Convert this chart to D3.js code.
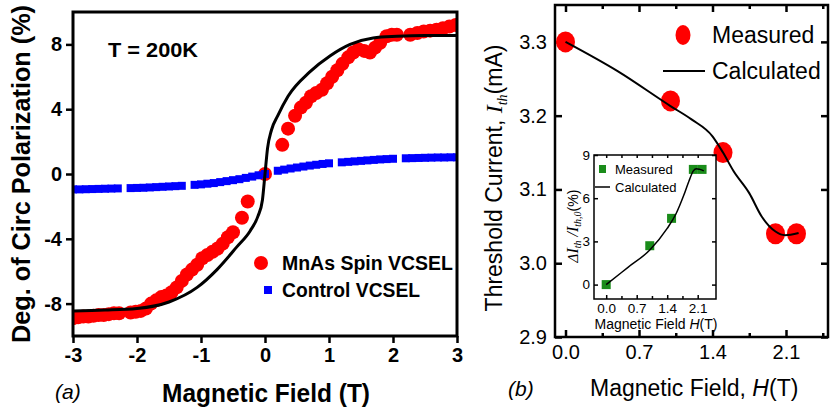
<!DOCTYPE html>
<html>
<head>
<meta charset="utf-8">
<script src="https://cdn.jsdelivr.net/npm/d3@7"></script>
<style>
  body { margin: 0; background: #fff; }
  svg { font-family: Arial, "Liberation Sans", sans-serif; }
</style>
</head>
<body>
<div id="graf"></div>
<script>
// ---- panel (a): polarization vs field ----
const spinField = [-3.0,-2.92,-2.84,-2.76,-2.68,-2.6,-2.52,-2.44,-2.36,-2.28,-2.1,-2.02,-1.94,-1.86,-1.78,-1.7,-1.62,-1.54,-1.46,-1.38,-1.3,-1.22,-1.14,-1.06,-0.98,-0.9,-0.82,-0.74,-0.66,-0.58,-0.5,-0.36,-0.27,0,0.27,0.36,0.47,0.56,0.64,0.72,0.8,0.89,0.97,1.05,1.13,1.21,1.3,1.38,1.46,1.55,1.64,1.72,1.8,1.9,1.98,2.06,2.27,2.38,2.48,2.58,2.68,2.78,2.88,2.98]
const spinPol = [-8.9,-8.85,-8.8,-8.8,-8.75,-8.7,-8.7,-8.65,-8.6,-8.6,-8.55,-8.5,-8.45,-8.3,-8.0,-7.8,-7.6,-7.5,-7.3,-7.0,-6.6,-6.2,-5.9,-5.6,-5.2,-5.0,-4.8,-4.6,-4.3,-3.9,-3.6,-2.7,-1.7,0,1.8,2.8,3.6,4.1,4.4,4.8,5.0,5.2,5.6,6.0,6.4,6.8,7.2,7.5,7.7,7.6,7.5,7.8,8.1,8.5,8.6,8.6,8.6,8.7,8.8,8.85,8.9,9.0,9.1,9.2]
const controlField = [-3.0,-2.9,-2.8,-2.7,-2.6,-2.5,-2.4,-2.3,-2.1,-2.0,-1.9,-1.8,-1.7,-1.6,-1.5,-1.4,-1.3,-1.1,-1.0,-0.9,-0.8,-0.7,-0.6,-0.5,-0.4,-0.3,-0.2,-0.1,0,0.2,0.3,0.4,0.5,0.6,0.7,0.8,0.9,1.0,1.2,1.3,1.4,1.5,1.6,1.7,1.8,1.9,2.0,2.2,2.3,2.4,2.5,2.6,2.7,2.8,2.9,3.0]
const controlPol = [-0.95,-0.95,-0.94,-0.93,-0.92,-0.91,-0.9,-0.89,-0.87,-0.86,-0.85,-0.83,-0.81,-0.79,-0.77,-0.75,-0.73,-0.67,-0.64,-0.6,-0.56,-0.5,-0.44,-0.38,-0.32,-0.24,-0.16,-0.08,0,0.2,0.27,0.34,0.4,0.46,0.52,0.57,0.62,0.66,0.72,0.75,0.78,0.81,0.84,0.87,0.9,0.92,0.94,0.97,0.98,0.99,1.0,1.01,1.02,1.02,1.03,1.03]
const fitField = [-3,-2.5,-2,-1.5,-1.06,-0.75,-0.44,-0.23,-0.11,-0.04,0,0.04,0.1,0.2,0.36,0.7,1.02,1.33,1.69,2.06,2.5,3]
const fitPol = [-8.45,-8.4,-8.3,-7.9,-7.0,-5.9,-4.5,-3.5,-2.6,-1.6,0,1.6,2.7,3.6,4.8,6.3,7.3,8.0,8.4,8.5,8.55,8.55]
const ticksAx = [-3,-2,-1,0,1,2,3]
const ticksAy = [-8,-4,0,4,8]

// ---- panel (b): threshold current ----
const fieldB = [0,1.0,1.5,2.0,2.2]
const ithMeasured = [3.30,3.22,3.15,3.04,3.04]
const calcFieldB = [0,0.5,1.0,1.2,1.4,1.5,1.6,1.75,1.87,2.0,2.09,2.22]
const ithCalc = [3.30,3.26,3.213,3.195,3.172,3.15,3.125,3.095,3.063,3.043,3.038,3.041]
const ticksBx = [0,0.7,1.4,2.1]
const minorBx = [0.35,1.05,1.75,2.45]
const ticksBy = [2.9,3.0,3.1,3.2,3.3]

// ---- inset ----
const deltaMeasured = [0,2.7,4.6,8.0,8.0]
const calcFieldC = [0,0.5,1.0,1.4,1.6,1.78,1.9,2.0,2.07,2.15,2.24]
const deltaCalc = [0,1.2,2.4,3.9,4.9,6.2,7.2,7.9,8.05,8.0,7.9]
const ticksCx = [0,0.7,1.4,2.1]
const minorCx = [0.35,1.05,1.75]
const ticksCy = [0,3,6,9]

const svg = d3.select("#graf").append("svg").attr("width", 830).attr("height", 410)

const styleAxis = (g, w, font) => {
  g.select(".domain").remove()
  g.selectAll("line").attr("stroke", "#000").attr("stroke-width", w)
  g.selectAll("text").attr("fill", "#000").style("font", font)
}
const plain = (d) => String(d)

// ================= panel (a) =================
const xA = d3.scaleLinear().domain([-3, 3]).range([73, 457])
const yA = d3.scaleLinear().domain([-10, 10]).range([336, 12])

svg.append("clipPath").attr("id", "clipA").append("rect")
  .attr("x", 73).attr("y", 12).attr("width", 384).attr("height", 324)

const plotA = svg.append("g").attr("clip-path", "url(#clipA)")

plotA.selectAll("circle").data(d3.zip(spinField, spinPol)).join("circle")
  .attr("cx", d => xA(d[0])).attr("cy", d => yA(d[1])).attr("r", 7)
  .attr("fill", "#ff0000")

plotA.selectAll("rect.ctrl").data(d3.zip(controlField, controlPol)).join("rect")
  .attr("class", "ctrl")
  .attr("x", d => xA(d[0]) - 4).attr("y", d => yA(d[1]) - 4)
  .attr("width", 8).attr("height", 8).attr("fill", "#0000ff")

const lineA = d3.line().x(d => xA(d[0])).y(d => yA(d[1])).curve(d3.curveMonotoneX)
plotA.append("path").datum(d3.zip(fitField, fitPol))
  .attr("d", lineA).attr("fill", "none").attr("stroke", "#000").attr("stroke-width", 3)

svg.append("g").attr("transform", "translate(0,336)")
  .call(d3.axisBottom(xA).tickValues(ticksAx).tickSize(7).tickPadding(5).tickFormat(plain))
  .call(styleAxis, 2.5, "bold 20px Arial, 'Liberation Sans'")
svg.append("g").attr("transform", "translate(73,0)")
  .call(d3.axisLeft(yA).tickValues(ticksAy).tickSize(7).tickPadding(4).tickFormat(plain))
  .call(styleAxis, 2.5, "bold 20px Arial, 'Liberation Sans'")

svg.append("rect").attr("x", 73).attr("y", 12).attr("width", 384).attr("height", 324)
  .attr("fill", "none").attr("stroke", "#000").attr("stroke-width", 3)

svg.append("text").attr("x", 108).attr("y", 57)
  .attr("textLength", 90).attr("lengthAdjust", "spacingAndGlyphs")
  .style("font", "bold 21px Arial, 'Liberation Sans'").text("T = 200K")

// legend (a)
svg.append("circle").attr("cx", 261).attr("cy", 263).attr("r", 7).attr("fill", "#ff0000")
svg.append("text").attr("x", 282).attr("y", 270)
  .attr("textLength", 171).attr("lengthAdjust", "spacingAndGlyphs")
  .style("font", "bold 20px Arial, 'Liberation Sans'").text("MnAs Spin VCSEL")
svg.append("rect").attr("x", 264).attr("y", 286).attr("width", 8).attr("height", 8).attr("fill", "#0000ff")
svg.append("text").attr("x", 282).attr("y", 297)
  .attr("textLength", 138).attr("lengthAdjust", "spacingAndGlyphs")
  .style("font", "bold 20px Arial, 'Liberation Sans'").text("Control VCSEL")

svg.append("text").attr("x", 162).attr("y", 402)
  .attr("textLength", 208).attr("lengthAdjust", "spacingAndGlyphs")
  .style("font", "bold 25px Arial, 'Liberation Sans'").text("Magnetic Field (T)")
svg.append("text").attr("transform", "translate(30,174) rotate(-90)")
  .attr("text-anchor", "middle")
  .attr("textLength", 338).attr("lengthAdjust", "spacingAndGlyphs")
  .style("font", "bold 25px Arial, 'Liberation Sans'").text("Deg. of Circ Polarization (%)")
svg.append("text").attr("x", 55).attr("y", 399)
  .style("font", "italic 21px Arial, 'Liberation Sans'").text("(a)")

// ================= panel (b) =================
const xB = d3.scaleLinear().domain([-0.1, 2.5]).range([555, 828])
const yB = d3.scaleLinear().domain([2.9, 3.35]).range([337, 5])
const tickFontB = "20px Arial, 'Liberation Sans'"

svg.append("g").attr("transform", "translate(0,337)")
  .call(d3.axisBottom(xB).tickValues(ticksBx).tickSize(-7).tickPadding(8).tickFormat(d3.format(".1f")))
  .call(styleAxis, 2.5, tickFontB)
svg.append("g").attr("transform", "translate(0,337)")
  .call(d3.axisBottom(xB).tickValues(minorBx).tickSize(-4).tickFormat(""))
  .call(styleAxis, 2.5, tickFontB)
svg.append("g").attr("transform", "translate(0,5)")
  .call(d3.axisTop(xB).tickValues(ticksBx).tickSize(-7).tickFormat(""))
  .call(styleAxis, 2.5, tickFontB)
svg.append("g").attr("transform", "translate(0,5)")
  .call(d3.axisTop(xB).tickValues(minorBx).tickSize(-4).tickFormat(""))
  .call(styleAxis, 2.5, tickFontB)
svg.append("g").attr("transform", "translate(555,0)")
  .call(d3.axisLeft(yB).tickValues(ticksBy).tickSize(-7).tickPadding(8).tickFormat(d3.format(".1f")))
  .call(styleAxis, 2.5, tickFontB)
svg.append("g").attr("transform", "translate(828,0)")
  .call(d3.axisRight(yB).tickValues(ticksBy).tickSize(-7).tickFormat(""))
  .call(styleAxis, 2.5, tickFontB)

svg.append("rect").attr("x", 555).attr("y", 5).attr("width", 273).attr("height", 332)
  .attr("fill", "none").attr("stroke", "#000").attr("stroke-width", 2.5)

svg.append("g").selectAll("ellipse").data(d3.zip(fieldB, ithMeasured)).join("ellipse")
  .attr("cx", d => xB(d[0])).attr("cy", d => yB(d[1]))
  .attr("rx", 9.5).attr("ry", 10.5).attr("fill", "#ff0000")

const lineB = d3.line().x(d => xB(d[0])).y(d => yB(d[1])).curve(d3.curveMonotoneX)
svg.append("path").datum(d3.zip(calcFieldB, ithCalc))
  .attr("d", lineB).attr("fill", "none").attr("stroke", "#000").attr("stroke-width", 2)

// legend (b)
svg.append("ellipse").attr("cx", 683).attr("cy", 35).attr("rx", 7.5).attr("ry", 10).attr("fill", "#ff0000")
svg.append("text").attr("x", 712).attr("y", 43)
  .style("font", "23px Arial, 'Liberation Sans'").text("Measured")
svg.append("line").attr("x1", 663).attr("x2", 705).attr("y1", 71).attr("y2", 71)
  .attr("stroke", "#000").attr("stroke-width", 2)
svg.append("text").attr("x", 712).attr("y", 79)
  .style("font", "23px Arial, 'Liberation Sans'").text("Calculated")

const yLabB = svg.append("text").attr("transform", "translate(502,178) rotate(-90)")
  .attr("text-anchor", "middle").style("font", "23px Arial, 'Liberation Sans'")
yLabB.append("tspan").text("Threshold Current, ")
yLabB.append("tspan").style("font", "italic 24px 'Liberation Serif', 'Times New Roman', serif").text("I")
yLabB.append("tspan").attr("dy", 5).style("font", "italic 14px 'Liberation Serif', 'Times New Roman', serif").text("th")
yLabB.append("tspan").attr("dy", -5).text("(mA)")

const xLabB = svg.append("text").attr("x", 590).attr("y", 396)
  .style("font", "23px Arial, 'Liberation Sans'")
xLabB.append("tspan").text("Magnetic Field, ")
xLabB.append("tspan").style("font-style", "italic").text("H")
xLabB.append("tspan").text("(T)")

svg.append("text").attr("x", 508).attr("y", 396)
  .style("font", "italic 21px Arial, 'Liberation Sans'").text("(b)")

// ================= inset =================
const xC = d3.scaleLinear().domain([-0.28, 2.52]).range([594, 716])
const yC = d3.scaleLinear().domain([-1, 9]).range([299, 155])
const tickFontC = "13.5px Arial, 'Liberation Sans'"

svg.append("rect").attr("x", 594).attr("y", 155).attr("width", 122).attr("height", 144)
  .attr("fill", "#fff")

svg.append("g").attr("transform", "translate(0,299)")
  .call(d3.axisBottom(xC).tickValues(ticksCx).tickSize(-4).tickPadding(4).tickFormat(d3.format(".1f")))
  .call(styleAxis, 1.5, tickFontC)
svg.append("g").attr("transform", "translate(0,299)")
  .call(d3.axisBottom(xC).tickValues(minorCx).tickSize(-3).tickFormat(""))
  .call(styleAxis, 1.5, tickFontC)
svg.append("g").attr("transform", "translate(0,155)")
  .call(d3.axisTop(xC).tickValues(ticksCx.concat(minorCx)).tickSize(-3).tickFormat(""))
  .call(styleAxis, 1.5, tickFontC)
svg.append("g").attr("transform", "translate(594,0)")
  .call(d3.axisLeft(yC).tickValues(ticksCy).tickSize(-4).tickPadding(4))
  .call(styleAxis, 1.5, tickFontC)
svg.append("g").attr("transform", "translate(716,0)")
  .call(d3.axisRight(yC).tickValues(ticksCy).tickSize(-4).tickFormat(""))
  .call(styleAxis, 1.5, tickFontC)

svg.append("rect").attr("x", 594).attr("y", 155).attr("width", 122).attr("height", 144)
  .attr("fill", "none").attr("stroke", "#000").attr("stroke-width", 1.5)

svg.append("g").selectAll("rect").data(d3.zip(fieldB, deltaMeasured)).join("rect")
  .attr("x", d => xC(d[0]) - 4.5).attr("y", d => yC(d[1]) - 4.5)
  .attr("width", 9).attr("height", 9).attr("fill", "#1a8c1a")

const lineC = d3.line().x(d => xC(d[0])).y(d => yC(d[1])).curve(d3.curveMonotoneX)
svg.append("path").datum(d3.zip(calcFieldC, deltaCalc))
  .attr("d", lineC).attr("fill", "none").attr("stroke", "#000").attr("stroke-width", 1.5)

// inset legend
svg.append("rect").attr("x", 599).attr("y", 165).attr("width", 7).attr("height", 8).attr("fill", "#1a8c1a")
svg.append("text").attr("x", 615).attr("y", 174)
  .style("font", "13px Arial, 'Liberation Sans'").text("Measured")
svg.append("line").attr("x1", 595).attr("x2", 610).attr("y1", 187).attr("y2", 187)
  .attr("stroke", "#000").attr("stroke-width", 1.5)
svg.append("text").attr("x", 615).attr("y", 192)
  .style("font", "13px Arial, 'Liberation Sans'").text("Calculated")

const xLabC = svg.append("text").attr("x", 656).attr("y", 329).attr("text-anchor", "middle")
  .style("font", "14px Arial, 'Liberation Sans'")
xLabC.append("tspan").text("Magnetic Field ")
xLabC.append("tspan").style("font-style", "italic").text("H")
xLabC.append("tspan").text("(T)")

const serifI = "italic 16px 'Liberation Serif', 'Times New Roman', serif"
const serifSub = "italic 10px 'Liberation Serif', 'Times New Roman', serif"
const yLabC = svg.append("text").attr("transform", "translate(578,226) rotate(-90)")
  .attr("text-anchor", "middle").style("font", "14px Arial, 'Liberation Sans'")
yLabC.append("tspan").style("font", "italic 15px 'Liberation Serif', serif").text("Δ")
yLabC.append("tspan").style("font", serifI).text("I")
yLabC.append("tspan").attr("dy", 3).style("font", serifSub).text("th")
yLabC.append("tspan").attr("dy", -3).style("font", serifI).text(" /")
yLabC.append("tspan").style("font", serifI).text("I")
yLabC.append("tspan").attr("dy", 3).style("font", serifSub).text("th,0")
yLabC.append("tspan").attr("dy", -3).text("(%)")
</script>
</body>
</html>
